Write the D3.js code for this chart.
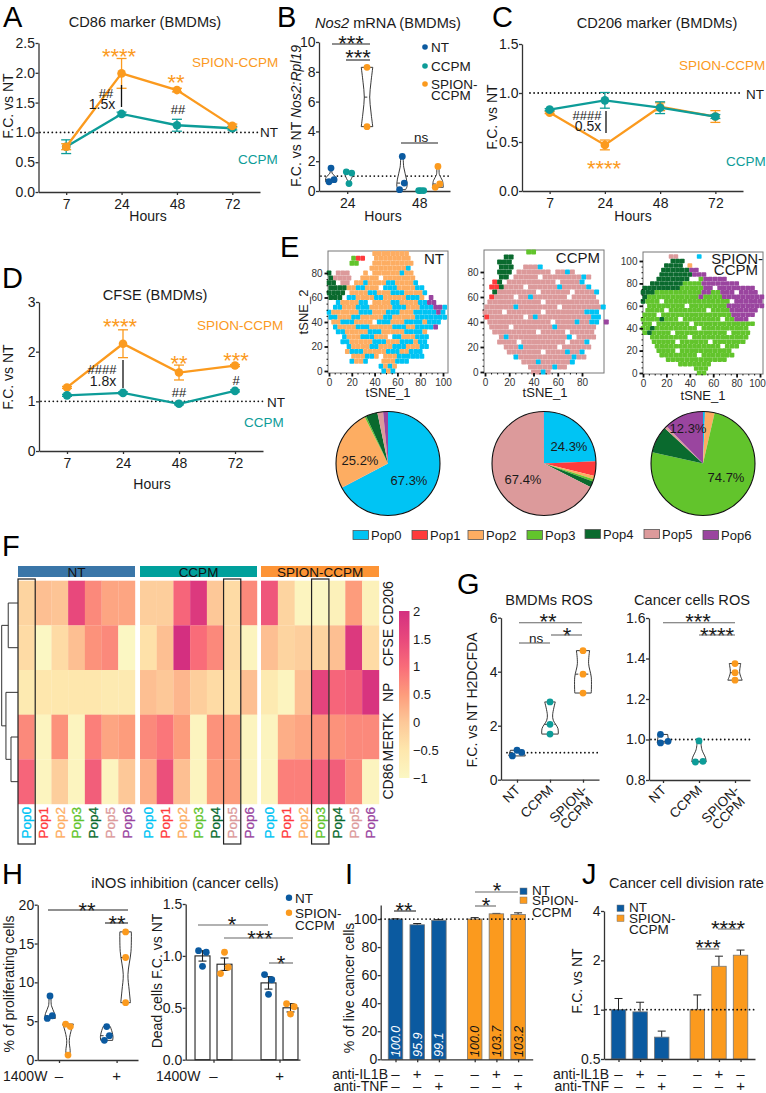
<!DOCTYPE html>
<html><head><meta charset="utf-8">
<style>html,body{margin:0;padding:0;background:#fff}svg{display:block}text{font-family:"Liberation Sans",Arial,sans-serif;fill:#1a1a1a}</style>
<script src="https://cdn.jsdelivr.net/npm/d3@7"></script>
</head><body><svg id="c" width="766" height="1093" viewBox="0 0 766 1093"></svg>
<script>
// ---------- DATA ----------
const hours=['7','24','48','72'];
const aSpion=[0.76,1.99,1.71,1.11], aSpionErr=[0.05,0.25,0.03,0.03];
const aCcpm=[0.76,1.31,1.12,1.07], aCcpmErr=[0.115,0.03,0.10,0.03];
const cSpion=[0.80,0.47,0.86,0.76], cSpionErr=[0.01,0.05,0.04,0.06];
const cCcpm=[0.83,0.925,0.85,0.76], cCcpmErr=[0.01,0.08,0.06,0.02];
const dSpion=[1.28,2.16,1.58,1.72], dSpionErr=[0.02,0.28,0.15,0.02];
const dCcpm=[1.12,1.17,0.95,1.21], dCcpmErr=[0.02,0.02,0.02,0.02];

const groups3=['NT','CCPM','SPION-CCPM'];
const nos2Positions=[0,1,2,3.94,5,5.94];
const nos2Points=[[[0,1.54],[.17,.76],[-.11,.62]],[[-.15,1.29],[.15,1.2],[0,.5]],[[0,8.3],[0,4.32]],[[.02,2.32],[.13,.53],[-.13,.09]],[[-.13,.03],[0,.03],[.15,.03]],[[0,1.65],[.1,.47],[-.15,.25]]];
const nos2Outlines=[[[1.54,.05],[1.2,.06],[.9,.28],[.62,.3]],[[1.29,.25],[1.0,.2],[.7,.08],[.5,.04]],[[8.3,.32],[7.3,.22],[6.3,.15],[5.3,.22],[4.32,.32]],[[2.32,.07],[1.6,.1],[.8,.25],[.3,.28],[.09,.2]],[[.06,.15],[0,.15]],[[1.65,.07],[1.1,.08],[.7,.25],[.25,.3]]];
const nos2Medians=[.76,1.2,6.3,.53,.03,.47];
const nos2Groups=[0,1,2,0,1,2];

const rosMacPoints=[[[-.14,.88],[0,1.09],[.14,1.01]],[[0,2.88],[0,2.05],[0,1.69]],[[0,4.78],[0,3.91],[0,3.21]]];
const rosMacOutlines=[[[1.09,.2],[.88,.25]],[[2.88,.16],[2.4,.08],[2.2,.1],[1.9,.24],[1.69,.25]],[[4.78,.2],[4.3,.17],[3.8,.25],[3.21,.25]]];
const rosMacMedians=[1.01,2.05,3.91];
const rosCanPoints=[[[-.07,1.025],[-.07,.983],[.14,.991]],[[0,.993],[-.1,.889],[.11,.892]],[[0,1.375],[0,1.33],[0,1.293]]];
const rosCanOutlines=[[[1.025,.13],[.983,.16]],[[.993,.05],[.95,.08],[.91,.18],[.889,.2]],[[1.375,.16],[1.33,.13],[1.293,.2]]];
const rosCanMedians=[.991,.892,1.33];

const inosPositions=[0,1,3.15,4.2];
const inosPoints=[[[0,8.24],[.13,5.7],[-.15,5.36]],[[-.13,4.63],[.13,4.3],[0,.64]],[[0,4.3],[.15,3.13],[-.13,2.53]],[[0,16.5],[0,13.2],[0,7.38]]];
const inosOutlines=[[[8.24,.06],[7,.08],[6,.25],[5.36,.3]],[[4.63,.3],[4,.2],[2.5,.07],[1.2,.12],[.64,.1]],[[4.3,.2],[3.6,.3],[3,.35],[2.53,.33]],[[16.5,.32],[14,.3],[11,.13],[9,.2],[7.38,.27]]];
const inosMedians=[5.7,4.3,3.13,13.2];
const inosGroups=[0,2,0,2];

const deadPositions=[0,1,3,4];
const deadMeans=[1.0,.92,.74,.5], deadErr=[.05,.06,.06,.04];
const deadPoints=[[[-.18,1.05],[.17,1.035],[0,.90]],[[0,1.035],[.17,.89],[-.18,.83]],[[-.18,.82],[.15,.77],[0,.63]],[[-.18,.54],[.17,.51],[0,.44]]];

const barPositions=[0,1,2,3.65,4.65,5.65];
const liveMeans=[100.0,95.9,99.1,100.0,103.7,103.2], liveErr=[.2,.9,.5,1.0,.3,1.2];
const liveLabels=['100.0','95.9','99.1','100.0','103.7','103.2'];
const divMeans=[1.0,.97,.68,1.0,1.84,2.15], divTop=[1.17,1.11,.74,1.23,2.12,2.31];
const il1bRow=['–','+','–','–','+','–'], tnfRow=['–','–','+','–','–','+'];

const popNames=['Pop0','Pop1','Pop2','Pop3','Pop4','Pop5','Pop6'];
const popColors=['#00c4f4','#ff3a3c','#fdad62','#62c42c','#0a6a2e','#dc9a9b','#9a459f'];
const popCodes='brogdpv';
const pieNT=[67.3,0.1,25.2,0.5,3.6,1.8,1.5];
const pieCCPM=[24.3,4.6,1.0,0.7,1.9,67.4,0.1];
const pieSPION=[0.6,0.1,2.9,74.7,8.4,0.8,12.3];

// coarse map of the tSNE clouds: top row first, one letter per 4 tSNE units
const tsneNT=[
"..........oooooooo........",
".....grr..oooooooo........",
".....gg...ooooooooo.......",
".........oooooooob........",
"d.ppp...o.ooooooboo.......",
"dpppp..oooo.ooooooo.......",
"dd.pp.ooboooobboooob......",
"ddddoobbooo.bbboooobb.....",
"dddd.oooobbooobbboooob....",
"ddd.bboooobbooooobbbo.v...",
"..boooobb.oooobboooobbvv..",
".bbooobbbooooobbbooobbbvvb",
"boooooobbbooobbbooobbbbbvb",
"bbooobbooooobbooooobbbbbbb",
".oobbboooo.bbbooobbbbobbb.",
".boooobbbooooobbboobbbbv..",
"..bbooooobbbooooobbbbo....",
"...booobbbooo.bbooobbb....",
"...bbooooobbbooobbbobb....",
"....boooobbooobbbooobb....",
"....obbbooooobbboobbb.....",
".....ooobbo.ooobbbbbb.....",
".....boob...ooobbb........",
"...........bobo...........",
"............bob..........."];
const tsneCCPM=[
".........gg..............",
"....dd...................",
"...ddd...................",
"...ddd..pppb.............",
"...ddd.ppppppp.ppbp......",
"...dd.ppppp.ppppppppbp...",
"..rd.pppppppppp.ppppb....",
".rrdpppp.ppppppbpppppb...",
"..dpppppppp.pppppp.ppppb.",
".rpppp.ppbppppppp.ppppp..",
".ppppppppppp.ppppppppppp.",
"ppppppbpppppppp.ppppppppb",
"pppp.ppppppp.ppppppppbbb.",
"rppppppp.pbpppppppppppbb.",
".ppppppppppppp.ppppbppbb.v",
".pppp.ppppppppbpppppppp..",
"..ppppppppp.ppppp.ppppp..",
"...pbppppppppppppb.pppp..",
"...pppp.ppppppppp.pppb...",
"....pppbppppppp.pppppp...",
".....ppppppp.ppppbppb....",
"......bpppppppppppbpp....",
"........pppbppppppb......",
".........pppppbpp........",
"..........ppbp..........."];
const tsneSPION=[
"......pp....b.............",
"......ddd.................",
".....dddd.o...............",
"....ddddddvv..............",
"....dddddddvvv............",
"...ddddddd..gvvvvv........",
"..dddddddggggvvvvvvvv.....",
"ddddddddgggggvv.vvvvvvvv..",
"dddggggggggggvvggvvv.vvvv.",
"dgggggggggggvggggvvvvvvvvv",
"dggg.gggggggggggggg.vvvvvv",
".gggggggg.ggggggggvvvvvvvv",
".gggg.gggggggg.ggggvvvvvv.",
"ggg.gggggggggggggggvvvvv..",
"ggggdggg.gggggggg.ggvvv...",
"gg.ggggggg.ggggggggggggg..",
"ggdggggggggg.gggggggggg...",
"gdgggg.ggggggggggg.gggg...",
"..gggggggg.gggggggggggg...",
"..ggggg.gggggg.ggggggg....",
"...gggggggggggggg.ggg.....",
"...gggg.ggggggggggg.......",
"....gggggggg.ggggggg......",
".....ggggggggggggg........",
"........ggggggg...........",
"...........ggg............",
"............gg............"];

const heatRows=['CD206','CFSE','NP','MERTK','CD86'];
const heatNT=[[-.2,.1,.05,1.5,.7,.4,.4],[-.3,-1,-.3,.1,.6,.7,-1],[-.6,-.5,-.5,-.5,-.5,-.6,-.6],[.7,-.9,.6,-.9,.8,.4,.5],[1.1,-.9,-.1,-.9,1.2,-.9,0]];
const heatCCPM=[[-.1,-.1,1.1,1.8,0,-.3,.7],[-.4,.1,2,1,.7,-.3,-.9],[.1,0,.2,-.1,-.3,-.4,.1],[.7,.9,.5,-.9,.6,.5,-.9],[.3,1.4,.1,-.9,.5,.5,-.9]];
const heatSPION=[[1.3,-.2,-.9,-1,-.8,.5,-.8],[.1,-.2,-.1,-.2,.1,1.8,-.3],[-.6,-.9,.1,1.6,1.1,1.2,1.9],[-.9,.3,.4,.6,.6,.7,.7],[-.9,.8,.8,1.2,1.2,.7,-.9]];
const heatBoxed=[0,5,3];
const dendroMerges=[{id:'a',l:0,r:1,h:.6},{id:'b',l:3,r:4,h:.43},{id:'c',l:2,r:'b',h:.74},{id:'d',l:'a',r:'c',h:1}];
const heatStops=[-1,-.5,0,.5,1,1.5,2];
const heatStopColors=['#fbf7c3','#fee7ad','#fdc898','#fd9c7c','#f96c79','#e8487c','#d42f80'];

// ---------- STYLE ----------
const ORANGE='#fb9a1e',TEAL='#0d9c98',BLUE='#0b5aa0',INK='#1a1a1a',AX='#333';
const groupColor=[BLUE,TEAL,ORANGE];
const svg=d3.select('#c');

function txt(x,y,s,o={}){
  const size=o.size||14;
  const t=svg.append('text').attr('transform',`translate(${x},${y})`+(o.rot?` rotate(${o.rot})`:''))
    .attr('y',size*.36).attr('font-size',size).attr('text-anchor',o.anchor||'middle')
    .style('fill',o.fill||INK);
  if(o.italic)t.attr('font-style','italic');
  if(Array.isArray(s)){s.forEach(p=>t.append('tspan').attr('font-style',p.i?'italic':'normal').text(p.t));}
  else t.text(s);
  return t;
}
const TITLE=14.6;
function stars(x,y,n,fill){
  const size=22;
  svg.append('text').attr('x',x).attr('y',y+size*.58).attr('font-size',size).attr('text-anchor','middle').style('fill',fill||INK).text('*'.repeat(n));
}
function letter(x,y,s){svg.append('text').attr('x',x).attr('y',y).attr('font-size',29).style('fill','#000').text(s);}
function seg(x1,y1,x2,y2,o={}){
  svg.append('line').attr('x1',x1).attr('y1',y1).attr('x2',x2).attr('y2',y2)
   .attr('stroke',o.c||'#222').attr('stroke-width',o.w||1.2).attr('stroke-dasharray',o.dash||null).attr('stroke-linecap',o.cap||null);
}
function dotted(x1,x2,y){seg(x1,y,x2,y,{c:'#111',w:1.8,dash:'0 4.1',cap:'round'});}
function axes(x,y,xTicks,xFmt,yTicks,yFmt,opts={}){
  const bottom=y.range()[0], left=x.range()[0];
  const ya=d3.axisLeft(y).tickValues(yTicks).tickSize(3).tickSizeOuter(0).tickPadding(.5).tickFormat(yFmt);
  const xa=d3.axisBottom(x).tickValues(xTicks).tickSize(opts.xTick||3).tickSizeOuter(0).tickPadding(4).tickFormat(xFmt);
  for(const [a,t] of [[ya,`translate(${left},0)`],[xa,`translate(0,${bottom})`]]){
    const g=svg.append('g').attr('transform',t).call(a);
    g.selectAll('path').attr('stroke',AX).attr('stroke-width',1.3);
    g.selectAll('line').attr('stroke',AX).attr('stroke-width',1.3);
    g.selectAll('text').attr('font-size',14).style('font-family','"Liberation Sans",Arial,sans-serif').style('fill',INK);
  }
}
function linePanel(o){
  const x=d3.scaleLinear().domain([-.5,3.5]).range([o.left,o.right]);
  const y=d3.scaleLinear().domain([0,o.ymax]).range([o.bottom,o.top]);
  axes(x,y,[0,1,2,3],i=>hours[i],o.yTicks,o.yFmt);
  dotted(o.dotFrom,o.dotTo,y(1));
  const line=d3.line().x((d,i)=>x(i)).y(d=>y(d));
  for(const [vals,errs,col] of o.order){
    const g=svg.append('g');
    vals.forEach((v,i)=>{
      const e=errs[i],cx=x(i);
      g.append('line').attr('x1',cx).attr('x2',cx).attr('y1',y(v-e)).attr('y2',y(v+e)).attr('stroke',col).attr('stroke-width',1.3);
      for(const s of [v-e,v+e]) g.append('line').attr('x1',cx-5).attr('x2',cx+5).attr('y1',y(s)).attr('y2',y(s)).attr('stroke',col).attr('stroke-width',1.3);
    });
    g.append('path').attr('d',line(vals)).attr('fill','none').attr('stroke',col).attr('stroke-width',2.3);
    g.selectAll('circle').data(vals).join('circle').attr('cx',(d,i)=>x(i)).attr('cy',d=>y(d)).attr('r',4.3).attr('fill',col);
  }
  return {x,y};
}
function violin(x,y,pos,pts,outline,median,col,r){
  const line=d3.line().curve(d3.curveCatmullRom.alpha(.5));
  const rs=outline.map(d=>[x(pos+d[1]),y(d[0])]);
  const ls=outline.map(d=>[x(pos-d[1]),y(d[0])]).reverse();
  svg.append('path').attr('d',line(rs)+line(ls).replace('M','L')+'Z').attr('fill','#fff').attr('stroke','#222').attr('stroke-width',.9);
  if(median!=null){
    const hw=d3.scaleLinear().domain(outline.map(d=>d[0])).range(outline.map(d=>d[1]))(median);
    seg(x(pos-hw),y(median),x(pos+hw),y(median),{w:.9,dash:'3 2'});
  }
  svg.append('g').selectAll('circle').data(pts).join('circle').attr('cx',d=>x(pos+d[0])).attr('cy',d=>y(d[1])).attr('r',r||3.4).attr('fill',col);
}
function bracket(x1,x2,y,c){seg(x1,y,x2,y,{c:c||'#222',w:1.1});}

// ---------- A ----------
letter(3,26.5,'A');
txt(145,22,'CD86 marker (BMDMs)',{size:TITLE});
linePanel({left:38.5,right:260,top:43,bottom:192,ymax:2.5,yTicks:[0,.5,1,1.5,2,2.5],yFmt:d3.format('.1f'),dotFrom:40,dotTo:259,
  order:[[aCcpm,aCcpmErr,TEAL],[aSpion,aSpionErr,ORANGE]]});
txt(8,106,'F.C. vs NT',{rot:-90});
txt(148,216,'Hours');
stars(119,51,4,ORANGE);stars(176,77,2,ORANGE);
txt(106,93,'##',{size:13});txt(102,104,'1.5x');seg(121.5,85,121.5,107,{c:'#111',w:1.3});
txt(178,109,'##',{size:13});
txt(192,62,'SPION-CCPM',{anchor:'start',fill:ORANGE,size:13.5});
txt(238,159,'CCPM',{anchor:'start',fill:TEAL,size:13.5});
txt(260,132.5,'NT',{anchor:'start',size:13.5});

// ---------- B ----------
letter(277,26.5,'B');
txt(388,23,[{t:'Nos2',i:1},{t:' mRNA (BMDMs)'}],{size:TITLE});
{
 const x=d3.scaleLinear().domain([-.667,6.61]).range([319,450]);
 const y=d3.scaleLinear().domain([0,10]).range([191,42]);
 axes(x,y,[.9,4.9],d=>d<2?'24':'48',[0,2,4,6,8,10],d3.format('d'));
 dotted(321,449,y(1));
 nos2Positions.forEach((p,i)=>violin(x,y,p,nos2Points[i],nos2Outlines[i],nos2Medians[i],groupColor[nos2Groups[i]]));
}
txt(296,116,[{t:'F.C. vs NT '},{t:'Nos2:Rpl19',i:1}],{rot:-90});
txt(383,216,'Hours');
stars(351,38,3);bracket(332,370,44);
stars(358,52,3);bracket(346,370,60);
txt(421,137,'ns',{size:13.5});bracket(401,438,143);
[[47,'NT',0],[66,'CCPM',1],[84,'SPION-',2]].forEach(d=>{
 svg.append('circle').attr('cx',425).attr('cy',d[0]).attr('r',2.8).attr('fill',groupColor[d[2]]);
 txt(431,d[0],d[1],{anchor:'start',size:13.5});});
txt(431,95,'CCPM',{anchor:'start',size:13.5});

// ---------- C ----------
letter(492,26.5,'C');
txt(657,23,'CD206 marker (BMDMs)',{size:TITLE});
linePanel({left:522,right:743,top:44,bottom:191,ymax:1.5,yTicks:[0,.5,1,1.5],yFmt:d3.format('.1f'),dotFrom:530,dotTo:743,
  order:[[cSpion,cSpionErr,ORANGE],[cCcpm,cCcpmErr,TEAL]]});
txt(492,117,'F.C. vs NT',{rot:-90});
txt(633,216,'Hours');
stars(604,163,4,ORANGE);
txt(587,115,'####',{size:13});txt(588,126,'0.5x');seg(606,111,606,133,{c:'#111',w:1.3});
txt(679,65,'SPION-CCPM',{anchor:'start',fill:ORANGE,size:13.5});
txt(726,161,'CCPM',{anchor:'start',fill:TEAL,size:13.5});
txt(746,94,'NT',{anchor:'start',size:13.5});

// ---------- D ----------
letter(2,288,'D');
txt(155,295,'CFSE (BMDMs)',{size:TITLE});
linePanel({left:39,right:263,top:302,bottom:451,ymax:3,yTicks:[0,1,2,3],yFmt:d3.format('d'),dotFrom:41,dotTo:265,
  order:[[dSpion,dSpionErr,ORANGE],[dCcpm,dCcpmErr,TEAL]]});
txt(8,377,'F.C. vs NT',{rot:-90});
txt(152,484,'Hours');
stars(120,321,4,ORANGE);stars(179,358,2,ORANGE);stars(236,355,3,ORANGE);
txt(102,369,'####',{size:13});txt(103,381,'1.8x');seg(123,360,123,388,{c:'#111',w:1.3});
txt(179,392,'##',{size:13});txt(236,380,'#',{size:13});
txt(197,325,'SPION-CCPM',{anchor:'start',fill:ORANGE,size:13.5});
txt(244,422,'CCPM',{anchor:'start',fill:TEAL,size:13.5});
txt(267,402,'NT',{anchor:'start',size:13.5});

// ---------- E ----------
letter(280,257,'E');
function scatter(o){
  const x=d3.scaleLinear().domain([0,o.xRef]).range([o.x0,o.xR]);
  const y=d3.scaleLinear().domain([0,o.yRef]).range([o.y0,o.yR]);
  svg.append('rect').attr('x',o.left).attr('y',o.top).attr('width',o.right-o.left).attr('height',o.bottom-o.top)
    .attr('fill','#fff').attr('stroke','#777').attr('stroke-width',1);
  const n=o.grid.length;
  const cells=[];
  o.grid.forEach((row,r)=>[...row].forEach((c,i)=>{ if(c!=='.')cells.push({tx:i*4+(r%2?1.5:0),ty:(n-1-r)*4,c}); }));
  const cw=x(4)-x(0), ch=y(0)-y(4);
  svg.append('g').selectAll('rect').data(cells).join('rect')
    .attr('x',d=>x(d.tx)-cw/2).attr('y',d=>y(d.ty)-ch/2).attr('width',cw+.1).attr('height',ch+.1).attr('rx',.8)
    .attr('fill',d=>popColors[popCodes.indexOf(d.c)]);
  const axm=(a,scale,vals,len,w,lbl,t)=>{
    const g=svg.append('g').attr('transform',t).call(a(scale).tickValues(vals).tickSize(len).tickSizeOuter(0).tickPadding(2).tickFormat(lbl));
    g.select('path').remove();
    g.selectAll('line').attr('stroke','#111').attr('stroke-width',w);
    g.selectAll('text').attr('font-size',10).style('font-family','"Liberation Sans",Arial,sans-serif').style('fill','#333')
      .attr('dx',function(d){const b=scale(d)+8.5;return a===d3.axisBottom&&b>766?-3:null;});
  };
  const inX=o.xTicks[o.xTicks.length-1], inY=o.yTicks[o.yTicks.length-1];
  axm(d3.axisBottom,x,d3.range(0,inX+.1,5),1.5,1,'',`translate(0,${o.bottom})`);
  axm(d3.axisLeft,y,d3.range(0,inY+.1,5),1.5,1,'',`translate(${o.left},0)`);
  axm(d3.axisBottom,x,o.xTicks,3.5,1.8,d3.format('d'),`translate(0,${o.bottom})`);
  axm(d3.axisLeft,y,o.yTicks,3.5,1.8,d3.format('d'),`translate(${o.left},0)`);
}
scatter({left:328,right:448,top:251,bottom:373,x0:329,xR:443,xRef:100,y0:371,yR:273,yRef:80,grid:tsneNT,xTicks:[0,20,40,60,80,100],yTicks:[0,20,40,60,80]});
scatter({left:484,right:604,top:250,bottom:373,x0:485,xR:582,xRef:80,y0:372,yR:272,yRef:80,grid:tsneCCPM,xTicks:[0,20,40,60,80],yTicks:[0,20,40,60,80]});
scatter({left:643,right:763,top:252,bottom:374,x0:643,xR:760,xRef:100,y0:373,yR:261,yRef:100,grid:tsneSPION,xTicks:[0,20,40,60,80,100],yTicks:[0,20,40,60,80,100]});
txt(303,312,'tSNE_2',{rot:-90,size:13});
txt(388,392,'tSNE_1',{size:13});txt(545,392,'tSNE_1',{size:13});txt(703,395,'tSNE_1',{size:13});
txt(444,259,'NT',{anchor:'end',size:15});txt(600,258,'CCPM',{anchor:'end',size:15});
txt(763,259,'SPION-',{anchor:'end',size:15});txt(758,270,'CCPM',{anchor:'end',size:15});

const pieGen=d3.pie().sort(null).value(d=>d);
const arcGen=d3.arc().innerRadius(0).outerRadius(52);
[[388,pieNT],[544,pieCCPM],[703,pieSPION]].forEach(([cx,vals])=>{
  const g=svg.append('g').attr('transform',`translate(${cx},463.5)`);
  g.selectAll('path').data(pieGen(vals)).join('path').attr('d',arcGen).attr('fill',(d,i)=>popColors[i]);
  g.append('circle').attr('r',52).attr('fill','none').attr('stroke','#111').attr('stroke-width',1.1);
});
[[409,480,'67.3%'],[360,460,'25.2%'],[569,446,'24.3%'],[523,479,'67.4%'],[726,477,'74.7%'],[688,428,'12.3%']].forEach(d=>txt(d[0],d[1],d[2],{size:13}));
popNames.forEach((p,i)=>{
  const sx=[353,412,468,527,585,644,703][i];
  const ty=i==4||i==5?534:535;
  svg.append('rect').attr('x',sx).attr('y',ty-4.5).attr('width',15.5).attr('height',9).attr('fill',popColors[i]).attr('stroke','#555').attr('stroke-width',.8);
  txt(sx+18,ty,p,{anchor:'start',size:13});
});

// ---------- F ----------
letter(2,556,'F');
const heatColor=d3.scaleLinear().domain(heatStops).range(heatStopColors).clamp(true);
const rowBand=d3.scaleBand().domain(heatRows).range([580.7,804]);
[[18,135,heatNT,'#3a76a8',0],[140,257,heatCCPM,'#00a09c',1],[261,379,heatSPION,'#fd9436',2]].forEach(([l,r,m,c,gi])=>{
  const colBand=d3.scaleBand().domain(popNames).range([l,r]);
  svg.append('rect').attr('x',l).attr('y',566).attr('width',r-l).attr('height',11).attr('fill',c);
  txt((l+r)/2,572,groups3[gi],{size:13.5,fill:'#111'});
  heatRows.forEach((row,ri)=>popNames.forEach((p,ci)=>{
    svg.append('rect').attr('x',colBand(p)).attr('y',rowBand(row)).attr('width',colBand.bandwidth()+.2).attr('height',rowBand.bandwidth()+.2).attr('fill',heatColor(m[ri][ci]));
  }));
  popNames.forEach((p,i)=>{
    txt(colBand(p)+colBand.bandwidth()/2,807,p,{rot:-90,anchor:'end',size:13.5,fill:popColors[i]}).style('stroke',popColors[i]).style('stroke-width',.3);
  });
  const bp=popNames[heatBoxed[gi]];
  svg.append('rect').attr('x',colBand(bp)).attr('y',579).attr('width',colBand.bandwidth()+.5).attr('height',265).attr('fill','none').attr('stroke','#222').attr('stroke-width',1.2);
});
heatRows.forEach(r=>txt(388,rowBand(r)+rowBand.bandwidth()/2,r,{rot:-90}));
{
 const hx=d3.scaleLinear().domain([0,1]).range([18,1.7]);
 const pos={};
 const nodeY=k=>pos[k]!==undefined?pos[k]:rowBand(heatRows[k])+rowBand.bandwidth()/2;
 const nodeH=k=>typeof k==='number'?0:dendroMerges.find(m=>m.id===k).h;
 dendroMerges.forEach(m=>{
   const a=nodeY(m.l),b=nodeY(m.r);
   seg(hx(nodeH(m.l)),a,hx(m.h),a,{c:'#333',w:1});
   seg(hx(nodeH(m.r)),b,hx(m.h),b,{c:'#333',w:1});
   seg(hx(m.h),a,hx(m.h),b,{c:'#333',w:1});
   pos[m.id]=(a+b)/2;
 });
 const ly=d3.scaleLinear().domain([-1,2]).range([778,611]);
 const grad=svg.append('defs').append('linearGradient').attr('id','hg').attr('x1',0).attr('y1',1).attr('x2',0).attr('y2',0);
 heatStops.forEach((s,i)=>grad.append('stop').attr('offset',(s+1)/3).attr('stop-color',heatStopColors[i]));
 svg.append('rect').attr('x',399).attr('y',ly(2)).attr('width',10.5).attr('height',ly(-1)-ly(2)).attr('fill','url(#hg)');
 heatStops.forEach(s=>txt(413,ly(s),d3.format('')(s).replace('-','−'),{anchor:'start',size:13}));
}

// ---------- G ----------
letter(457,594,'G');
txt(549,600,'BMDMs ROS',{size:TITLE});txt(692,600,'Cancer cells ROS',{size:TITLE});
function rosPanel(left,right,p0,unit,yDom,top,bottom,yTicks,yFmt,pts,outl,meds,dotFrom,dotTo){
  const x=d3.scaleLinear().domain([(left-p0)/unit,(right-p0)/unit]).range([left,right]);
  const y=d3.scaleLinear().domain(yDom).range([bottom,top]);
  axes(x,y,[0,1,2],()=>'',yTicks,yFmt);
  dotted(dotFrom,dotTo,y(1));
  pts.forEach((p,i)=>violin(x,y,i,p,outl[i],meds[i],groupColor[i],3.4));
  ['NT','CCPM'].forEach((l,i)=>{
    svg.append('text').attr('transform',`translate(${x(i)+4},${bottom+11}) rotate(-45)`).attr('text-anchor','end').attr('font-size',13.5).text(l);
  });
  const t=svg.append('text').attr('transform',`translate(${x(2)+5},${bottom+11}) rotate(-45)`).attr('text-anchor','end').attr('font-size',13.5);
  t.append('tspan').attr('x',0).text('SPION-');
  t.append('tspan').attr('x',-4).attr('dy',12).text('CCPM');
}
rosPanel(501,599,517,33,[0,6],617.7,779.7,[0,2,4,6],d3.format('d'),rosMacPoints,rosMacOutlines,rosMacMedians,507,600);
rosPanel(649,750,663,36,[.8,1.6],618,780,[.8,1,1.2,1.4,1.6],d3.format('.1f'),rosCanPoints,rosCanOutlines,rosCanMedians,651,750);
txt(472,700,'F.C. vs NT H2DCFDA',{rot:-90});
stars(548,616,2);bracket(519,582,622.7,'#666');
stars(567,630,1);bracket(551,582,635,'#666');
txt(536,638,'ns',{size:13.5});bracket(519,550,643,'#666');
stars(698,616,3);bracket(663,735,622.7,'#666');
stars(717,630,4);bracket(699,735,635,'#666');

// ---------- H ----------
letter(2,884,'H');
txt(185,883,'iNOS inhibition (cancer cells)',{size:TITLE});
{
 const x=d3.scaleLinear().domain([(37.7-50)/18,(138-50)/18]).range([37.7,138]);
 const y=d3.scaleLinear().domain([0,20]).range([1060,904.7]);
 axes(x,y,[.5,3.7],()=>'',[0,5,10,15,20],d3.format('d'));
 inosPositions.forEach((p,i)=>violin(x,y,p,inosPoints[i],inosOutlines[i],inosMedians[i],groupColor[inosGroups[i]]));
 txt(3,1076,'1400W',{anchor:'start'});
 txt(x(.5),1076,'–',{size:15});txt(x(3.7),1076,'+',{size:15});
}
txt(9,984,'% of proliferating cells',{rot:-90});
stars(87,905,2);bracket(48,128,910);
stars(117,918,2);bracket(105,128,923);
{
 const x=d3.scaleLinear().domain([(185.7-202.5)/22,(300-202.5)/22]).range([185.7,300]);
 const y=d3.scaleLinear().domain([0,1.5]).range([1059.7,904]);
 const bw=x(.68)-x(0);
 deadPositions.forEach((p,i)=>{
   svg.append('rect').attr('x',x(p)-bw/2).attr('y',y(deadMeans[i])).attr('width',bw).attr('height',y(0)-y(deadMeans[i])).attr('fill','#fff').attr('stroke','#222').attr('stroke-width',1.1);
 });
 axes(x,y,[.5,3.5],()=>'',[0,.5,1,1.5],d3.format('.1f'));
 deadPositions.forEach((p,i)=>{
   const cx=x(p),v=deadMeans[i],e=deadErr[i];
   seg(cx,y(v-e),cx,y(v+e),{w:1.1});
   seg(cx-4,y(v+e),cx+4,y(v+e),{w:1.1});seg(cx-4,y(v-e),cx+4,y(v-e),{w:1.1});
   svg.append('g').selectAll('circle').data(deadPoints[i]).join('circle').attr('cx',d=>x(p+d[0])).attr('cy',d=>y(d[1])).attr('r',3.4).attr('fill',groupColor[i%2*2]);
 });
 txt(156,1076,'1400W',{anchor:'start'});
 txt(x(.5),1076,'–',{size:15});txt(x(3.5),1076,'+',{size:15});
}
txt(157,981,'Dead cells F.C. vs NT',{rot:-90});
stars(232,919,1);bracket(198,268,925,'#666');
stars(260,933,3);bracket(224,293,938,'#666');
stars(281,958,1);bracket(269,293,963,'#666');
svg.append('circle').attr('cx',289).attr('cy',897.7).attr('r',3.2).attr('fill',BLUE);
svg.append('circle').attr('cx',289).attr('cy',912.7).attr('r',3.2).attr('fill',ORANGE);
txt(295,897.7,'NT',{anchor:'start',size:13.5});txt(295,912.7,'SPION-',{anchor:'start',size:13.5});txt(295,925,'CCPM',{anchor:'start',size:13.5});

// ---------- I ----------
letter(345,884,'I');
function barCols(i){return i<3?BLUE:ORANGE;}
function rowsUnder(x,labelX){
  txt(labelX,1073.5,'anti-IL1B',{anchor:'end'});txt(labelX,1085.5,'anti-TNF',{anchor:'end'});
  barPositions.forEach((p,i)=>{txt(x(p),1073.5,il1bRow[i],{size:15});txt(x(p),1085.5,tnfRow[i],{size:15});});
}
{
 const x=d3.scaleLinear().domain([(380.7-395.5)/21.7,(532.7-395.5)/21.7]).range([380.7,532.7]);
 const y=d3.scaleLinear().domain([0,110]).range([1059.3,905]);
 const bw=14.5;
 barPositions.forEach((p,i)=>{
   const cx=x(p),v=liveMeans[i],e=liveErr[i];
   seg(cx,y(v),cx,y(v+e),{w:1});seg(cx-4,y(v+e),cx+4,y(v+e),{w:1});
   svg.append('rect').attr('x',cx-bw/2).attr('y',y(v)).attr('width',bw).attr('height',y(0)-y(v)).attr('fill',barCols(i)).attr('stroke','#777').attr('stroke-width',.8);
 });
 axes(x,y,barPositions,()=>'',[0,20,40,60,80,100],d3.format('d'),{xTick:3});
 dotted(381,533,y(100));
 barPositions.forEach((p,i)=>txt(x(p),1057,liveLabels[i],{rot:-90,anchor:'start',size:12.5,italic:1,fill:i<3?'#fff':'#111'}));
 rowsUnder(x,388);
}
txt(349,988,'% of live cancer cells',{rot:-90});
stars(404,905,2);bracket(394,416,911);
stars(497,885,1);bracket(475,518,892,'#666');
stars(486,900,1);bracket(475,496,906,'#666');
function swatch(x,y,c){svg.append('rect').attr('x',x).attr('y',y).attr('width',7).attr('height',6.5).attr('fill',c).attr('stroke','#777').attr('stroke-width',.5);}
swatch(520,888,BLUE);swatch(520,897,ORANGE);
txt(532,890,'NT',{anchor:'start',size:13.5});txt(532,900,'SPION-',{anchor:'start',size:13.5});txt(532,912,'CCPM',{anchor:'start',size:13.5});

// ---------- J ----------
letter(582,884,'J');
txt(609,883,'Cancer cell division rate',{anchor:'start',size:TITLE});
{
 const x=d3.scaleLinear().domain([(604-618.5)/21.6,(755-618.5)/21.6]).range([604,755]);
 const y=d3.scaleLog().base(2).domain([.5,4]).range([1059,911]);
 const bw=14.5;
 barPositions.forEach((p,i)=>{
   const cx=x(p),v=divMeans[i],t=divTop[i];
   seg(cx,y(v),cx,y(t),{w:1});seg(cx-4,y(t),cx+4,y(t),{w:1});
   svg.append('rect').attr('x',cx-bw/2).attr('y',y(v)).attr('width',bw).attr('height',y(.5)-y(v)).attr('fill',barCols(i)).attr('stroke','#777').attr('stroke-width',.8);
 });
 axes(x,y,barPositions,()=>'',[.5,1,2,4],d3.format(''),{xTick:3});
 dotted(606,757,y(1));
 rowsUnder(x,609);
}
txt(577,981,'F.C. vs NT',{rot:-90});
stars(728,923,4);bracket(718,740,929,'#666');
stars(708,942,3);bracket(697,719,949,'#666');
swatch(617,905,BLUE);swatch(617,915,ORANGE);
txt(629,907,'NT',{anchor:'start',size:13.5});txt(629,918,'SPION-',{anchor:'start',size:13.5});txt(629,929,'CCPM',{anchor:'start',size:13.5});
</script></body></html>
